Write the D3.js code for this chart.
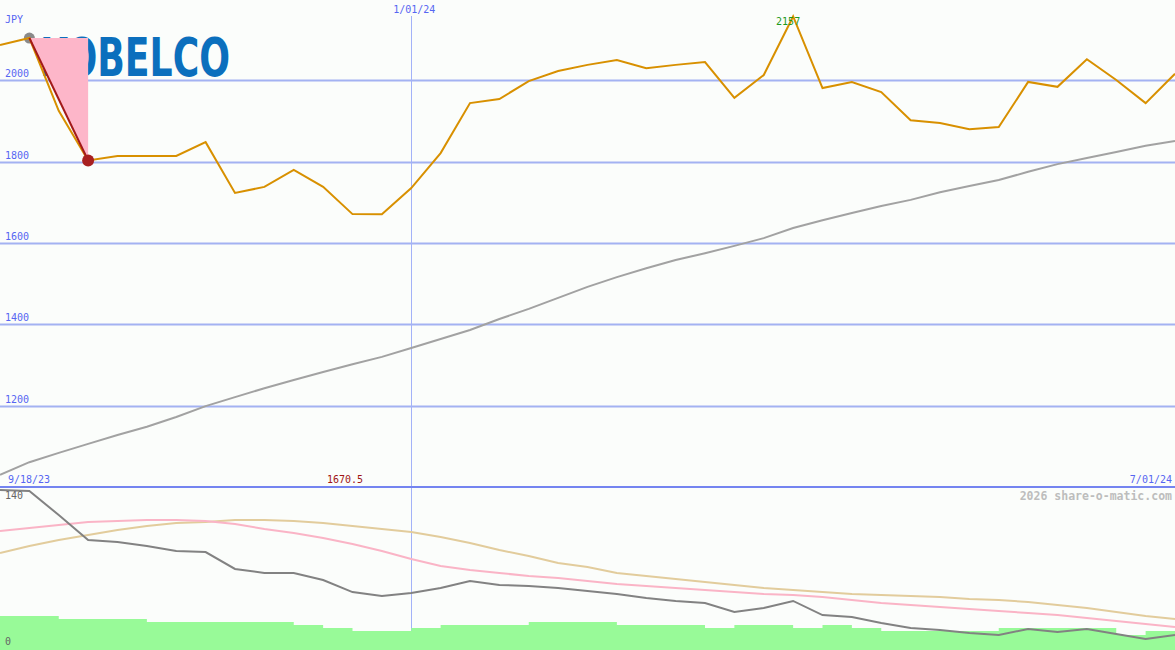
<!DOCTYPE html>
<html>
<head>
<meta charset="utf-8">
<script src="https://cdn.jsdelivr.net/npm/d3@7"></script>
<style>
  html, body { margin: 0; padding: 0; background: #fbfdfb; }
  svg { display: block; }
  text { font-family: "DejaVu Sans Mono", "Liberation Mono", monospace; }
</style>
</head>
<body>
<svg id="chart" width="1175" height="650"></svg>
<script>
// ---- data ----
const dates = ["2023-09-25","2023-10-02","2023-10-09","2023-10-16","2023-10-23","2023-10-30","2023-11-06","2023-11-13","2023-11-20","2023-11-27","2023-12-04","2023-12-11","2023-12-18","2023-12-25","2024-01-01","2024-01-08","2024-01-15","2024-01-22","2024-01-29","2024-02-05","2024-02-12","2024-02-19","2024-02-26","2024-03-04","2024-03-11","2024-03-18","2024-03-25","2024-04-01","2024-04-08","2024-04-15","2024-04-22","2024-04-29","2024-05-06","2024-05-13","2024-05-20","2024-05-27","2024-06-03","2024-06-10","2024-06-17","2024-06-24","2024-07-01"];
const price = [2087,2104,1925,1803,1814,1814,1814,1848,1723,1738,1780,1738,1671,1670.5,1735,1821,1944,1954,1998,2023,2038,2050,2030,2038,2045,1957,2013,2157,1981,1996,1971,1902,1895,1880,1885,1996,1984,2052,2001,1944,2016];
const movingAvg = [1030,1061,1084,1106,1128,1148,1172,1199,1221,1243,1263,1283,1302,1320,1342,1364,1386,1413,1438,1465,1492,1516,1538,1558,1575,1593,1612,1637,1656,1674,1691,1706,1725,1740,1755,1775,1794,1809,1824,1839,1851];
const relStrength = [140,139.1,118.1,96.2,94.5,91,86.6,85.7,70.9,67.4,67.4,61.2,50.7,47.2,49.9,54.2,60.4,56.9,56,54.2,51.6,49,45.5,42.9,41.1,33.2,36.7,42.9,30.6,28.9,23.6,19.2,17.5,14.9,13.1,18.4,15.7,18.4,14,9.6,13.1];
const fastAvg = [104.1,106.7,109.4,112,112.9,113.7,113.7,112.9,110.2,105.9,102.4,98,92.7,86.6,79.6,73.5,70,67.4,64.7,63,60.4,57.7,56,54.2,52.5,50.7,49,48.1,46.4,43.7,41.1,39.4,37.6,35.9,34.1,32.4,30.6,28,25.4,22.7,20.1];
const slowAvg = [84.9,91,96.2,100.6,105,108.5,111.1,112,113.7,113.7,112.9,111.1,108.5,105.9,103.2,98.9,93.6,87.5,82.2,76.1,72.6,67.4,64.7,62.1,59.5,56.9,54.2,52.5,50.7,49,48.1,47.2,46.4,44.6,43.7,42,39.4,36.7,33.2,29.7,27.1];
const volume = [29.7,29.7,27.1,27.1,27.1,24.5,24.5,24.5,24.5,24.5,21.9,19.2,16.6,16.6,19.2,21.9,21.9,21.9,24.5,24.5,24.5,21.9,21.9,21.9,19.2,21.9,21.9,19.2,21.9,19.2,16.6,16.6,16.6,16.6,19.2,19.2,19.2,19.2,13.1,16.6,16.6];
const priceTicks = [1200,1400,1600,1800,2000];
const lowerTicks = [0,140];
const unitLabel = "JPY";
const startLabel = "9/18/23";
const midDate = "2024-01-01", midLabel = "1/01/24";
const endLabel = "7/01/24";
const dropFrom = 1, dropTo = 3; // highlighted drop (index)
const copyright = "2026 share-o-matic.com";

// ---- scales ----
const W = 1175, H = 650;
const svg = d3.select("#chart");
const x = d3.scalePoint().domain(dates).range([0, W]);
const y = d3.scaleLinear().domain([1000, 2200]).range([487, -1]);
const yl = d3.scaleLinear().domain([0, 140]).range([650, 490]);
const blue = "#5666f2";

// background
svg.append("rect").attr("width", W).attr("height", H).attr("fill", "#fbfdfb");

// logo
svg.append("text").attr("x", 40).attr("y", 76)
  .attr("textLength", 190).attr("lengthAdjust", "spacingAndGlyphs")
  .style("font-family", "'DejaVu Sans', sans-serif").style("font-weight", "bold")
  .style("font-size", "54px").attr("fill", "#0b6fbd").text("KOBELCO");

// grid lines
svg.selectAll("line.grid").data(priceTicks).join("line")
  .attr("x1", 0).attr("x2", W)
  .attr("y1", d => Math.round(y(d)) + 0.5).attr("y2", d => Math.round(y(d)) + 0.5)
  .attr("stroke", "#a3b2f2").attr("stroke-width", 2);
svg.selectAll("text.ytick").data(priceTicks).join("text")
  .attr("x", 5).attr("y", d => y(d) - 3)
  .attr("fill", blue).style("font-size", "10px").text(d => d);
svg.append("text").attr("x", 5).attr("y", 23).attr("fill", blue).style("font-size", "10px").text(unitLabel);

// vertical date line
svg.append("line").attr("x1", Math.round(x(midDate)) + 0.5).attr("x2", Math.round(x(midDate)) + 0.5)
  .attr("y1", 16).attr("y2", H).attr("stroke", "#a3b2f8").attr("stroke-width", 1);
svg.append("text").attr("x", x(midDate) + 3).attr("y", 13).attr("text-anchor", "middle")
  .attr("fill", blue).style("font-size", "10px").text(midLabel);

// panel separator
svg.append("line").attr("x1", 0).attr("x2", W).attr("y1", 487).attr("y2", 487)
  .attr("stroke", "#7484f0").attr("stroke-width", 2);

// moving average
svg.append("path").datum(movingAvg)
  .attr("d", d3.line().x((d, i) => x(dates[i])).y(d => y(d)))
  .attr("fill", "none").attr("stroke", "#a2a2a2").attr("stroke-width", 2);

// drop highlight
const p1 = [x(dates[dropFrom]), y(price[dropFrom])];
const p2 = [x(dates[dropTo]), y(price[dropTo])];
svg.append("circle").attr("cx", p1[0]).attr("cy", p1[1]).attr("r", 5.5).attr("fill", "#8a8a8a");
svg.append("path").attr("d", `M${p1[0]},${p1[1]}L${p2[0]},${p1[1]}L${p2[0]},${p2[1]}Z`).attr("fill", "#fdb6c9");

// price line
svg.append("path").datum(price)
  .attr("d", d3.line().x((d, i) => x(dates[i])).y(d => y(d)))
  .attr("fill", "none").attr("stroke", "#d89000").attr("stroke-width", 2).attr("stroke-linejoin", "miter");

svg.append("line").attr("x1", p1[0]).attr("y1", p1[1]).attr("x2", p2[0]).attr("y2", p2[1])
  .attr("stroke", "#a31a1a").attr("stroke-width", 2);
svg.append("circle").attr("cx", p2[0]).attr("cy", p2[1]).attr("r", 6).attr("fill", "#a82020");

// max / min labels
const iMax = d3.maxIndex(price), iMin = d3.minIndex(price);
svg.append("text").attr("x", x(dates[iMax]) - 5).attr("y", 25).attr("text-anchor", "middle")
  .attr("fill", "#1f9a1f").style("font-size", "10px").text(price[iMax]);
svg.append("text").attr("x", 345).attr("y", 483).attr("text-anchor", "middle")
  .attr("fill", "#a01515").style("font-size", "10px").text(price[iMin]);

// date labels
svg.append("text").attr("x", 8).attr("y", 483).attr("fill", blue).style("font-size", "10px").text(startLabel);
svg.append("text").attr("x", 1172).attr("y", 483).attr("text-anchor", "end").attr("fill", blue).style("font-size", "10px").text(endLabel);

// lower panel: volume
svg.append("path").datum(volume)
  .attr("d", d3.area().curve(d3.curveStepAfter).x((d, i) => x(dates[i])).y0(H).y1(d => yl(d)))
  .attr("fill", "#98fa98");

// lower panel lines
const lowerLine = d3.line().x((d, i) => x(dates[i])).y(d => yl(d));
svg.append("path").datum(slowAvg).attr("d", lowerLine).attr("fill", "none").attr("stroke", "#e2cc9c").attr("stroke-width", 2);
svg.append("path").datum(fastAvg).attr("d", lowerLine).attr("fill", "none").attr("stroke", "#fab4c6").attr("stroke-width", 2);
svg.append("path").datum(relStrength).attr("d", lowerLine).attr("fill", "none").attr("stroke", "#828282").attr("stroke-width", 2);

// lower ticks
svg.selectAll("text.ltick").data(lowerTicks).join("text")
  .attr("x", 5).attr("y", d => d === 0 ? 645 : yl(d) + 9)
  .attr("fill", "#666").style("font-size", "10px").text(d => d);

// copyright
svg.append("text").attr("x", 1172).attr("y", 500).attr("text-anchor", "end")
  .attr("fill", "#bdbdbd").style("font-size", "11.5px").style("font-weight", "bold").text(copyright);
</script>
</body>
</html>
